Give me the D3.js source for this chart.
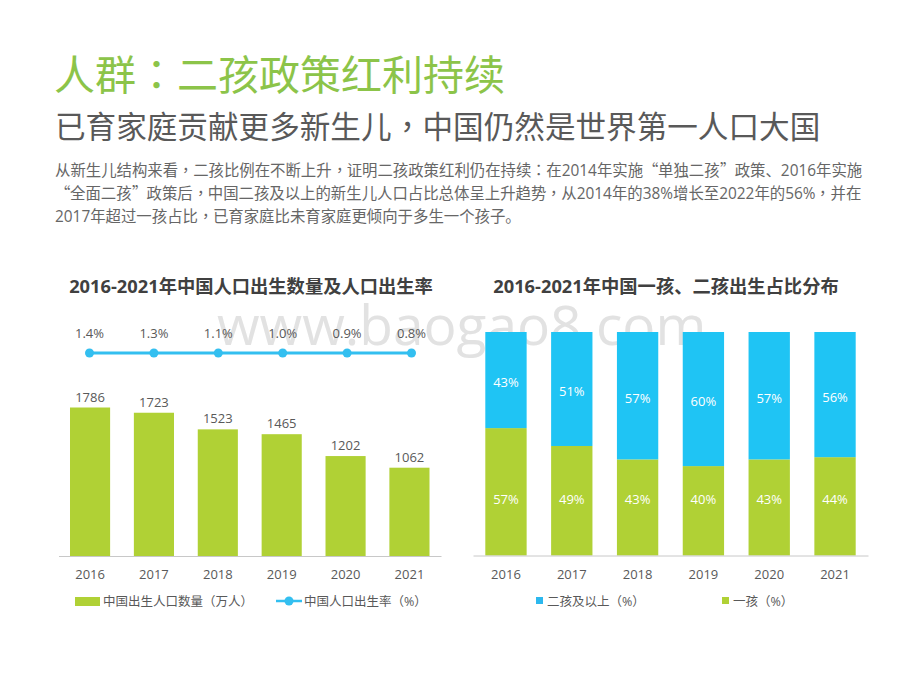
<!DOCTYPE html>
<html>
<head>
<meta charset="utf-8">
<title>人群:二孩政策红利持续</title>
<script src="https://d3js.org/d3.v7.min.js"></script>
<style>
/* centred full-width punctuation and wide curly quotes, as in the original */
@font-face { font-family: "Punct"; src: local("Noto Sans CJK TC"), local("NotoSansCJKtc-Regular"); unicode-range: U+FF0C, U+FF1A; }
@font-face { font-family: "Quotes"; src: local("Noto Sans CJK SC"), local("NotoSansCJKsc-Regular"); unicode-range: U+201C, U+201D; }
html, body { margin: 0; padding: 0; background: #fff; }
text { font-family: "Punct", "Quotes", "Open Sans", "Noto Sans CJK SC", sans-serif; }
</style>
</head>
<body>
<div id="chart"></div>
<script>
var years = ["2016", "2017", "2018", "2019", "2020", "2021"];
var births = [1786, 1723, 1523, 1465, 1202, 1062];
var birthRate = [1.4, 1.3, 1.1, 1.0, 0.9, 0.8];
var firstChild = [57, 49, 43, 40, 43, 44];
var secondChild = [43, 51, 57, 60, 57, 56];

// \uFF1A \uFF0C \uFF08 \uFF09 are the full-width : , ( ) of the original
var title = "人群\uFF1A二孩政策红利持续";
var subtitle = "已育家庭贡献更多新生儿\uFF0C中国仍然是世界第一人口大国";
var bodyLines = [
  "从新生儿结构来看\uFF0C二孩比例在不断上升\uFF0C证明二孩政策红利仍在持续\uFF1A在2014年实施\u201C单独二孩\u201D政策、2016年实施",
  "\u201C全面二孩\u201D政策后\uFF0C中国二孩及以上的新生儿人口占比总体呈上升趋势\uFF0C从2014年的38%增长至2022年的56%\uFF0C并在",
  "2017年超过一孩占比\uFF0C已育家庭比未育家庭更倾向于多生一个孩子。"
];

var green = "#b0d135", blue = "#1fc4f4", grey = "#595959";

var svg = d3.select("#chart").append("svg").attr("width", 920).attr("height", 690);
svg.append("rect").attr("width", 920).attr("height", 690).attr("fill", "#fff");

// heading
svg.append("text").attr("x", 54).attr("y", 90).attr("font-size", 41).attr("fill", "#8cc449").text(title);
svg.append("text").attr("x", 55).attr("y", 138).attr("font-size", 30.6).attr("fill", "#595959").text(subtitle);
svg.selectAll(".body").data(bodyLines).enter().append("text")
  .attr("class", "body").attr("x", 55).attr("y", function(d, i) { return 176 + i * 23; })
  .attr("font-size", 15.4).attr("fill", "#666").text(function(d) { return d; });

// watermark sits behind the bars
svg.append("text").attr("x", 217).attr("y", 345).attr("font-size", 55)
  .style("font-family", "Open Sans").attr("fill", "#e2e2e2").text("www.baogao8.com");

// left chart
var x1 = d3.scaleBand().domain(years).range([58.5, 441]).paddingInner(0.372).paddingOuter(0.18);
var y1 = d3.scaleLinear().domain([0, 1786]).range([556, 407.5]);
var xRate = d3.scalePoint().domain(years).range([89.5, 411.5]);
// the report draws the rate line flat, whatever the value
var yRate = d3.scaleLinear().domain([0.8, 1.4]).range([353, 353]);

svg.append("text").attr("x", 251).attr("y", 293).attr("text-anchor", "middle")
  .attr("font-size", 18.3).attr("font-weight", 700).attr("fill", "#404040").text("2016-2021年中国人口出生数量及人口出生率");

svg.selectAll(".bar").data(births).enter().append("rect").attr("class", "bar")
  .attr("x", function(d, i) { return x1(years[i]); })
  .attr("width", x1.bandwidth())
  .attr("y", function(d) { return y1(d); })
  .attr("height", function(d) { return y1(0) - y1(d); })
  .attr("fill", green);
svg.selectAll(".barLabel").data(births).enter().append("text").attr("class", "barLabel")
  .attr("x", function(d, i) { return x1(years[i]) + x1.bandwidth() / 2; })
  .attr("y", function(d) { return y1(d) - 6; })
  .attr("text-anchor", "middle").attr("font-size", 13).attr("fill", grey)
  .text(function(d) { return d; });

var rateLine = d3.line()
  .x(function(d, i) { return xRate(years[i]); })
  .y(function(d) { return yRate(d); });
svg.append("path").datum(birthRate).attr("d", rateLine)
  .attr("fill", "none").attr("stroke", "#33bff0").attr("stroke-width", 3);
svg.selectAll(".dot").data(birthRate).enter().append("circle").attr("class", "dot")
  .attr("cx", function(d, i) { return xRate(years[i]); })
  .attr("cy", function(d) { return yRate(d); })
  .attr("r", 4.5).attr("fill", "#33bff0");
svg.selectAll(".rateLabel").data(birthRate).enter().append("text").attr("class", "rateLabel")
  .attr("x", function(d, i) { return xRate(years[i]); })
  .attr("y", 338).attr("text-anchor", "middle").attr("font-size", 13).attr("fill", grey)
  .text(function(d) { return d.toFixed(1) + "%"; });

function drawAxis(scale, y) {
  var g = svg.append("g").attr("transform", "translate(0," + y + ")").call(d3.axisBottom(scale).tickSize(0).tickPadding(14));
  g.select(".domain").attr("stroke", "#c8c8c8").attr("stroke-width", 1);
  g.selectAll("text").attr("font-size", 13).attr("fill", grey).style("font-family", "Open Sans");
}
drawAxis(x1, 556);

// left legend
svg.append("rect").attr("x", 75).attr("y", 597).attr("width", 25).attr("height", 9).attr("fill", green);
svg.append("text").attr("x", 103).attr("y", 606).attr("font-size", 12.5).attr("fill", grey).text("中国出生人口数量\uFF08万人\uFF09");
svg.append("line").attr("x1", 276).attr("x2", 302).attr("y1", 601).attr("y2", 601).attr("stroke", "#33bff0").attr("stroke-width", 2.5);
svg.append("circle").attr("cx", 289).attr("cy", 601).attr("r", 4.5).attr("fill", "#33bff0");
svg.append("text").attr("x", 304).attr("y", 606).attr("font-size", 12.5).attr("fill", grey).text("中国人口出生率\uFF08%\uFF09");

// right chart
var x2 = d3.scaleBand().domain(years).range([473, 868]).paddingInner(0.372).paddingOuter(0.187);
var y2 = d3.scaleLinear().domain([0, 100]).range([555.5, 332]);

svg.append("text").attr("x", 666).attr("y", 293).attr("text-anchor", "middle")
  .attr("font-size", 18.3).attr("font-weight", 700).attr("fill", "#404040").text("2016-2021年中国一孩、二孩出生占比分布");

svg.selectAll(".first").data(firstChild).enter().append("rect").attr("class", "first")
  .attr("x", function(d, i) { return x2(years[i]); })
  .attr("width", x2.bandwidth())
  .attr("y", function(d) { return y2(d); })
  .attr("height", function(d) { return y2(0) - y2(d); })
  .attr("fill", green);
svg.selectAll(".second").data(secondChild).enter().append("rect").attr("class", "second")
  .attr("x", function(d, i) { return x2(years[i]); })
  .attr("width", x2.bandwidth())
  .attr("y", y2(100))
  .attr("height", function(d, i) { return y2(firstChild[i]) - y2(100); })
  .attr("fill", blue);
svg.selectAll(".firstLabel").data(firstChild).enter().append("text").attr("class", "firstLabel")
  .attr("x", function(d, i) { return x2(years[i]) + x2.bandwidth() / 2; })
  .attr("y", 504).attr("text-anchor", "middle").attr("font-size", 13).attr("fill", "#fff")
  .text(function(d) { return d + "%"; });
svg.selectAll(".secondLabel").data(secondChild).enter().append("text").attr("class", "secondLabel")
  .attr("x", function(d, i) { return x2(years[i]) + x2.bandwidth() / 2; })
  .attr("y", function(d, i) { return (y2(100) + y2(firstChild[i])) / 2 + 7; })
  .attr("text-anchor", "middle").attr("font-size", 13).attr("fill", "#fff")
  .text(function(d) { return d + "%"; });
drawAxis(x2, 555.5);

// right legend
svg.append("rect").attr("x", 536).attr("y", 597).attr("width", 7).attr("height", 7).attr("fill", "#2cb8ee");
svg.append("text").attr("x", 547).attr("y", 606).attr("font-size", 12.5).attr("fill", grey).text("二孩及以上\uFF08%\uFF09");
svg.append("rect").attr("x", 722).attr("y", 597).attr("width", 7).attr("height", 7).attr("fill", green);
svg.append("text").attr("x", 733).attr("y", 606).attr("font-size", 12.5).attr("fill", grey).text("一孩\uFF08%\uFF09");
</script>
</body>
</html>
